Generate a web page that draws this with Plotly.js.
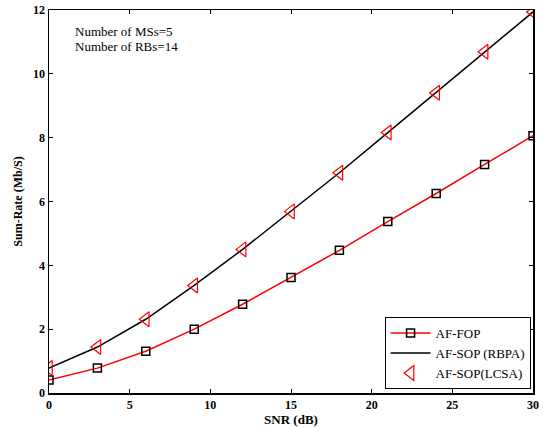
<!DOCTYPE html>
<html>
<head>
<meta charset="utf-8">
<script src="https://cdn.plot.ly/plotly-3.0.1.min.js"></script>
<style>html,body{margin:0;padding:0;background:#fff;}#chart{width:551px;height:428px;}</style>
</head>
<body>
<div id="chart"></div>
<script>
const snr = [0, 3, 6, 9, 12, 15, 18, 21, 24, 27, 30];
const fop = [0.41, 0.78, 1.31, 2.0, 2.78, 3.62, 4.47, 5.37, 6.25, 7.16, 8.06];
const sopRBPA = [0.78, 1.44, 2.31, 3.37, 4.5, 5.69, 6.9, 8.16, 9.41, 10.69, 11.94];
const sopLCSA = [0.78, 1.44, 2.31, 3.37, 4.5, 5.69, 6.9, 8.16, 9.41, 10.69, 11.94];
const xTicks = [0, 5, 10, 15, 20, 25, 30];
const yTicks = [0, 2, 4, 6, 8, 10, 12];

const serif = 'Liberation Serif, Times New Roman, serif';

const traces = [
  {x: snr, y: fop, name: 'AF-FOP', mode: 'lines+markers', type: 'scatter',
   line: {color: '#ff0000', width: 1.5},
   marker: {symbol: 'square-open', size: 8, color: '#000000', line: {width: 1.5, color: '#000000'}}},
  {x: snr, y: sopRBPA, name: 'AF-SOP (RBPA)', mode: 'lines', type: 'scatter',
   line: {color: '#000000', width: 1.5}},
  {x: snr, y: sopLCSA, name: 'AF-SOP(LCSA)', mode: 'markers', type: 'scatter',
   marker: {symbol: 'triangle-left-open', size: 13, color: '#ff0000', line: {width: 1.2, color: '#ff0000'}}}
];

const axisCommon = {
  showgrid: false, zeroline: false, showline: true, mirror: 'ticks',
  linecolor: '#000', linewidth: 1.5, ticks: 'inside', ticklen: 4, tickcolor: '#000',
  tickfont: {family: serif, size: 12, color: '#000'}
};

const layout = {
  width: 551, height: 428,
  margin: {l: 49, r: 18, t: 10, b: 35},
  paper_bgcolor: '#fff', plot_bgcolor: '#fff',
  font: {family: serif, color: '#000'},
  showlegend: true,
  xaxis: Object.assign({}, axisCommon, {
    range: [0, 30], tickvals: xTicks, ticktext: xTicks.map(v => '<b>' + v + '</b>'),
    title: {text: '<b>SNR (dB)</b>', font: {family: serif, size: 13, color: '#000'}, standoff: 4}
  }),
  yaxis: Object.assign({}, axisCommon, {
    range: [0, 12], tickvals: yTicks, ticktext: yTicks.map(v => '<b>' + v + '</b>'),
    title: {text: '<b>Sum-Rate (Mb/S)</b>', font: {family: serif, size: 12, color: '#000'}, standoff: 8}
  }),
  legend: {
    x: 0.995, y: 0.01, xanchor: 'right', yanchor: 'bottom',
    bgcolor: '#fff', bordercolor: '#000', borderwidth: 1,
    font: {family: serif, size: 13, color: '#000'},
    tracegroupgap: 0, itemwidth: 40
  },
  annotations: [
    {xref: 'paper', yref: 'paper', x: 0.05, y: 0.945, xanchor: 'left', yanchor: 'middle',
     text: 'Number of MSs=5', showarrow: false, font: {family: serif, size: 13, color: '#000'}},
    {xref: 'paper', yref: 'paper', x: 0.05, y: 0.905, xanchor: 'left', yanchor: 'middle',
     text: 'Number of RBs=14', showarrow: false, font: {family: serif, size: 13, color: '#000'}}
  ]
};

Plotly.newPlot('chart', traces, layout, {displayModeBar: false, staticPlot: true});
</script>
</body>
</html>
